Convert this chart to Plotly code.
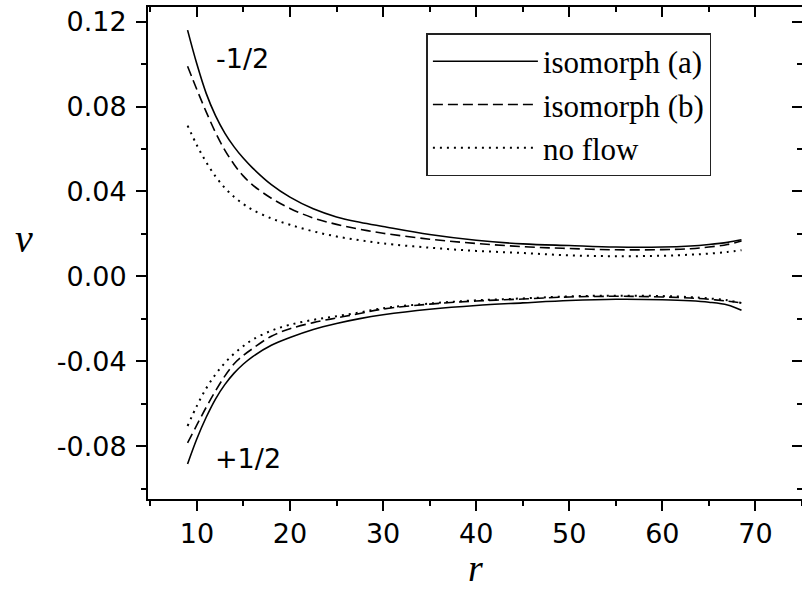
import plotly.graph_objects as go

# ---- data ----
r = [9, 10, 11, 12, 13, 14, 15, 16, 18, 20, 22.5, 25, 27.5, 30, 35, 40, 45, 50, 55, 60, 63, 65, 67, 68.5]

# upper branch (-1/2)
iso_a_minus = [0.116, 0.1000, 0.0862, 0.0757, 0.0675, 0.0610, 0.0556, 0.0510, 0.0432, 0.0373, 0.0318,
               0.0280, 0.0255, 0.0235, 0.0197, 0.0170, 0.0153, 0.0145, 0.0138, 0.0138, 0.0143, 0.0150, 0.0160, 0.0172]
iso_b_minus = [0.0990, 0.0880, 0.0775, 0.0678, 0.0595, 0.0527, 0.0472, 0.0430, 0.0368, 0.0320, 0.0275,
               0.0245, 0.0222, 0.0203, 0.0175, 0.0155, 0.0140, 0.0131, 0.0125, 0.0126, 0.0130, 0.0138, 0.0150, 0.0167]
noflow_minus = [0.0710, 0.0618, 0.0538, 0.0471, 0.0417, 0.0374, 0.0340, 0.0313, 0.0273, 0.0243, 0.0212,
                0.0188, 0.0170, 0.0155, 0.0135, 0.0120, 0.0110, 0.0099, 0.0095, 0.0097, 0.0102, 0.0107, 0.0115, 0.0123]

# lower branch (+1/2)
iso_a_plus = [-0.0884, -0.0765, -0.0664, -0.0578, -0.0510, -0.0456, -0.0413, -0.0378, -0.0325, -0.0288, -0.0250,
              -0.0222, -0.0199, -0.0181, -0.0155, -0.0137, -0.0125, -0.0114, -0.0108, -0.0110, -0.0115, -0.0122, -0.0135, -0.0160]
iso_b_plus = [-0.0785, -0.0700, -0.0617, -0.0540, -0.0470, -0.0412, -0.0372, -0.0340, -0.0282, -0.0247, -0.0218,
              -0.0196, -0.0175, -0.0154, -0.0131, -0.0116, -0.0107, -0.0097, -0.0094, -0.0097, -0.0102, -0.0108, -0.0117, -0.0125]
noflow_plus = [-0.0705, -0.0610, -0.0528, -0.0462, -0.0408, -0.0364, -0.0328, -0.0298, -0.0256, -0.0228, -0.0205,
               -0.0188, -0.0170, -0.0150, -0.0128, -0.0113, -0.0104, -0.0094, -0.0091, -0.0093, -0.0098, -0.0104, -0.0113, -0.0126]

series_names = ["isomorph (a)", "isomorph (b)", "no flow"]
branch_labels = ["-1/2", "+1/2"]

x_tick_vals = [10, 20, 30, 40, 50, 60, 70]
y_tick_vals = [-0.08, -0.04, 0.00, 0.04, 0.08, 0.12]
y_tick_text = ["-0.08", "-0.04", "0.00", "0.04", "0.08", "0.12"]

# ---- figure ----
styles = [dict(color="black", width=1.6, dash="solid"),
          dict(color="black", width=1.6, dash="10px,5px"),
          dict(color="black", width=2.0, dash="2px,5px")]

fig = go.Figure()
upper = [iso_a_minus, iso_b_minus, noflow_minus]
lower = [iso_a_plus, iso_b_plus, noflow_plus]
for i, name in enumerate(series_names):
    fig.add_trace(go.Scatter(x=r, y=upper[i], mode="lines", name=name, line=styles[i],
                             line_shape="spline", legendgroup=name, showlegend=True,
                             xaxis="x", yaxis="y"))
    # lower branch drawn on the mirrored (top/right) axes, which share identical ranges
    fig.add_trace(go.Scatter(x=r, y=lower[i], mode="lines", name=name, line=styles[i],
                             line_shape="spline", legendgroup=name, showlegend=False,
                             xaxis="x2", yaxis="y2"))

XR = [4.75, 75.0]
YR = [-0.1049, 0.1269]
sans = "DejaVu Sans"
serif = "'Liberation Serif', 'DejaVu Serif', 'Times New Roman', Times, serif"

common_x = dict(range=XR, showgrid=False, zeroline=False, showline=True, linecolor="black", linewidth=2,
                tickmode="array", tickvals=x_tick_vals, ticklen=10, tickwidth=1.5, tickcolor="black")
common_y = dict(range=YR, showgrid=False, zeroline=False, showline=True, linecolor="black", linewidth=2,
                tickmode="array", tickvals=y_tick_vals, ticklen=10, tickwidth=1.5, tickcolor="black")

fig.update_layout(
    width=802, height=591,
    margin=dict(l=148, r=0, t=7, b=92),
    paper_bgcolor="white", plot_bgcolor="white",
    showlegend=True,
    legend=dict(x=0.4257, y=0.947, xanchor="left", yanchor="top",
                bgcolor="white", bordercolor="#222", borderwidth=1.5,
                font=dict(family=serif, size=31, color="black"),
                itemwidth=105, tracegroupgap=0),
    xaxis=dict(**common_x, ticks="outside", tickfont=dict(family=sans, size=27, color="black"),
               minor=dict(ticks="outside", ticklen=5, dtick=5, tick0=0, tickwidth=1.5, tickcolor="black")),
    yaxis=dict(**common_y, ticktext=y_tick_text, ticks="outside", ticklabelstandoff=4,
               tickfont=dict(family=sans, size=27, color="black"),
               minor=dict(ticks="outside", ticklen=5, dtick=0.02, tick0=0, tickwidth=1.5, tickcolor="black")),
    xaxis2=dict(**common_x, overlaying="x", side="top", anchor="y2", showticklabels=False, ticks="inside",
                minor=dict(ticks="inside", ticklen=5, dtick=5, tick0=0, tickwidth=1.5, tickcolor="black")),
    yaxis2=dict(**common_y, overlaying="y", side="right", anchor="x2", showticklabels=False, ticks="inside",
                minor=dict(ticks="inside", ticklen=5, dtick=0.02, tick0=0, tickwidth=1.5, tickcolor="black")),
)

# branch labels
fig.add_annotation(x=14.9, y=0.1028, xref="x", yref="y", text=branch_labels[0], showarrow=False,
                   font=dict(family=sans, size=27, color="black"))
fig.add_annotation(x=15.45, y=-0.0856, xref="x", yref="y", text=branch_labels[1], showarrow=False,
                   font=dict(family=sans, size=27, color="black"))

# axis titles (paper coords relative to the plot area: 654 px wide, 492 px tall)
fig.add_annotation(xref="paper", yref="paper", x=(23.5 - 148) / 654, y=(499 - 238) / 492,
                   xanchor="center", yanchor="middle", text="<i>v</i>", showarrow=False,
                   font=dict(family=serif, size=40, color="black"))
fig.add_annotation(xref="paper", yref="paper", x=0.5, y=-(591 - 499) / 492, xanchor="center", yanchor="bottom",
                   text="<i>r</i>", showarrow=False, font=dict(family=serif, size=38, color="black"))

fig.write_html("out.html")
